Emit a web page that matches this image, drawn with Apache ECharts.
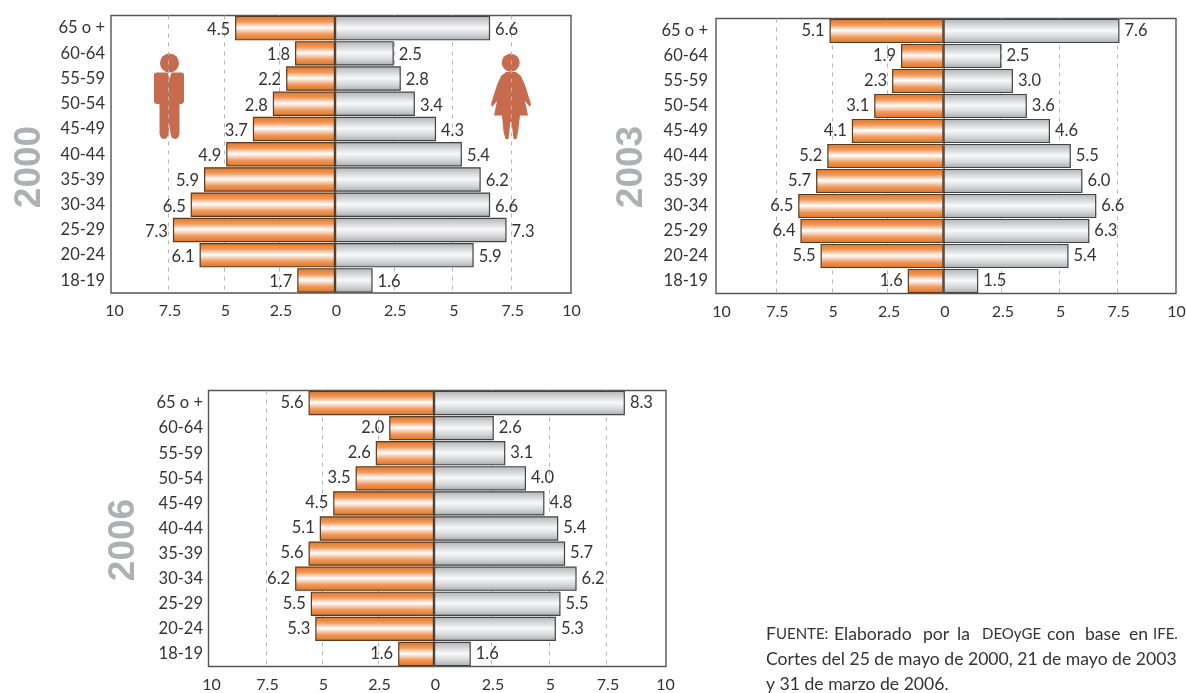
<!DOCTYPE html>
<html><head><meta charset="utf-8">
<style>html,body{margin:0;padding:0;background:#fff}#c{width:1186px;height:693px}</style>
<script src="https://cdn.jsdelivr.net/npm/echarts@6/dist/echarts.min.js"></script>
</head><body><div id="c"></div>
<script>
const categories = ['65 o +','60-64','55-59','50-54','45-49','40-44','35-39','30-34','25-29','20-24','18-19'];
const men2000   = [4.5,1.8,2.2,2.8,3.7,4.9,5.9,6.5,7.3,6.1,1.7];
const women2000 = [6.6,2.5,2.8,3.4,4.3,5.4,6.2,6.6,7.3,5.9,1.6];
const men2003   = [5.1,1.9,2.3,3.1,4.1,5.2,5.7,6.5,6.4,5.5,1.6];
const women2003 = [7.6,2.5,3.0,3.6,4.6,5.5,6.0,6.6,6.3,5.4,1.5];
const men2006   = [5.6,2.0,2.6,3.5,4.5,5.1,5.6,6.2,5.5,5.3,1.6];
const women2006 = [8.3,2.6,3.1,4.0,4.8,5.4,5.7,6.2,5.5,5.3,1.6];
const years = ['2000','2003','2006'];
const footWords = ['Elaborado','por','la','DEOyGE','con','base','en','IFE.'];
const footLine2 = 'Cortes del 25 de mayo de 2000, 21 de mayo de 2003';
const footLine3 = 'y 31 de marzo de 2006.';

const FONT = 'Lato,"Open Sans",sans-serif';
const FS = 16.5;
const TXT = '#333';
const panels = [
 {men:men2000,women:women2000,zero:335,ls:22.2,rs:23.5,top:15.5,bottom:293,fl:111,fr:571,lab:8,pad:5,off:1.5,yr:[30,167],year:years[0]},
 {men:men2003,women:women2003,zero:943.5,ls:22.35,rs:23.15,top:18.5,bottom:293.5,fl:716,fr:1176,lab:12,pad:2,off:0,yr:[632,167],year:years[1]},
 {men:men2006,women:women2006,zero:434,ls:22.4,rs:23.0,top:390.5,bottom:666.5,fl:208.5,fr:666,lab:7,pad:2,off:-0.5,yr:[124,540],year:years[2]}
];
const grad = (a,b,c,d,e)=>({type:'linear',x:0,y:0,x2:0,y2:1,colorStops:[
  {offset:0,color:a},{offset:.25,color:b},{offset:.48,color:c},{offset:.75,color:d},{offset:1,color:e}]});
const orange = grad('#e0741f','#f09a5e','#ffffff','#f09a5e','#dc7220');
const silver = grad('#b0b2b4','#d6d7d9','#f8f8f8','#d6d7d9','#a9abad');

const grid=[],xAxis=[],yAxis=[],series=[],graphic=[];
panels.forEach((p,i)=>{
  const h=p.bottom-p.top, band=h/categories.length, bw=band-0.8;
  graphic.push({type:'rect',z:-1,shape:{x:p.fl,y:p.top,width:p.fr-p.fl,height:h},
    style:{fill:'none',stroke:'#555',lineWidth:1.4},silent:true});
  graphic.push({type:'text',z:5,x:p.yr[0],y:p.yr[1],rotation:Math.PI/2,
    style:{text:p.year,fill:'#aeb0b2',font:'bold 37px "Liberation Sans",Arial,sans-serif',
      align:'center',verticalAlign:'middle',shadowColor:'rgba(120,120,120,.55)',shadowBlur:6,shadowOffsetX:3,shadowOffsetY:2}});
  const sides=[
    {side:'L',left:p.zero-10*p.ls,width:10*p.ls,data:p.men,fill:orange,stroke:'#5a3a20',inv:true,pos:'left'},
    {side:'R',left:p.zero,width:10*p.rs,data:p.women,fill:silver,stroke:'#444',inv:false,pos:'right'}];
  sides.forEach(s=>{
    const g=grid.length;
    grid.push({left:s.left,width:s.width,top:p.top,height:h,containLabel:false,outerBoundsMode:'none'});
    xAxis.push({gridIndex:g,type:'value',min:0,max:10,interval:2.5,inverse:s.inv,
      axisLine:{show:false},axisTick:{show:false},
      axisLabel:{show:true,color:TXT,fontFamily:FONT,fontSize:16,margin:10,hideOverlap:false,
        showMinLabel:true,showMaxLabel:true,padding:[0,0,0,3],
        formatter:v=>(s.side==='L'&&v===0)?'':String(v)},
      splitLine:{show:true,showMinLine:false,showMaxLine:false,lineStyle:{color:'#b5b5b5',type:[4,5],width:1}}});
    yAxis.push({gridIndex:g,type:'category',inverse:true,data:categories,
      axisTick:{show:false},splitLine:{show:false},
      axisLine:{show:s.side==='R',onZero:false,lineStyle:{color:'#777',width:2}},
      axisLabel:{show:s.side==='L',color:TXT,fontFamily:FONT,fontSize:FS,margin:p.lab,align:'right',interval:0,padding:[p.pad,0,0,0]}});
    series.push({type:'bar',xAxisIndex:g,yAxisIndex:g,data:s.data,barWidth:bw,silent:true,
      itemStyle:{color:s.fill,borderColor:s.stroke,borderWidth:1.2},
      label:{show:true,position:s.pos,distance:5,offset:[0,p.off],color:TXT,fontFamily:FONT,fontSize:FS,
        formatter:d=>d.value.toFixed(1)}});
  });
});

/* figure icons */
const ICON='#c76b4f';
graphic.push({type:'circle',shape:{cx:169.5,cy:63,r:9.5},style:{fill:ICON},silent:true});
graphic.push({type:'polygon',silent:true,style:{fill:ICON},shape:{points:[
 [156,72.5],[167.5,72.5],[169.5,79],[171.5,72.5],[182,72.5],[184,74],[184,102],[182,104],[179.5,104],[179.5,134],[178,138],[175,139],[172,138],[170.5,134],
 [169.5,124],[168.5,134],[167,138],[164,139],[161,138],[159.5,134],[159.5,104],[156,104],[154,102],[154,74]]}});
graphic.push({type:'circle',shape:{cx:510.7,cy:62.7,r:9},style:{fill:ICON},silent:true});
graphic.push({type:'polygon',silent:true,style:{fill:ICON},shape:{points:[
 [506,72],[516,72],[521,76],[525,85],[531,104],[530,107],[525,101],[528,115.5],[520,115.5],[518,132],[516.5,139],[513.5,139],[511.5,122],[510.5,122],[508.5,139],[505.5,139],[503.5,132],[502,115.5],[494,115.5],[497,101],[492,107],[491,104],[497,85],[501,76]]}});

/* source note */
const NOTE=17.6;
const noteFont=NOTE+'px '+FONT, smallFont='15px '+FONT;
graphic.push({type:'text',x:766,y:634,style:{text:'{a|F}{b|UENTE:}',verticalAlign:'middle',
  rich:{a:{font:noteFont,fill:TXT},b:{font:smallFont,fill:TXT}}}});
const wordX=[834,923,957,982,1047,1085,1129,1153];
footWords.forEach((w,i)=>{
  const small=(w==='DEOyGE'||w==='IFE.');
  graphic.push({type:'text',x:wordX[i],y:634,style:{text:w,fill:TXT,verticalAlign:'middle',font:small?smallFont:noteFont}});
});
graphic.push({type:'text',x:766,y:659,style:{text:footLine2,fill:TXT,verticalAlign:'middle',font:noteFont}});
graphic.push({type:'text',x:766,y:684,style:{text:footLine3,fill:TXT,verticalAlign:'middle',font:noteFont}});

const chart=echarts.init(document.getElementById('c'),null,{renderer:'canvas'});
chart.setOption({animation:false,backgroundColor:'#fff',grid,xAxis,yAxis,series,graphic});
</script></body></html>
